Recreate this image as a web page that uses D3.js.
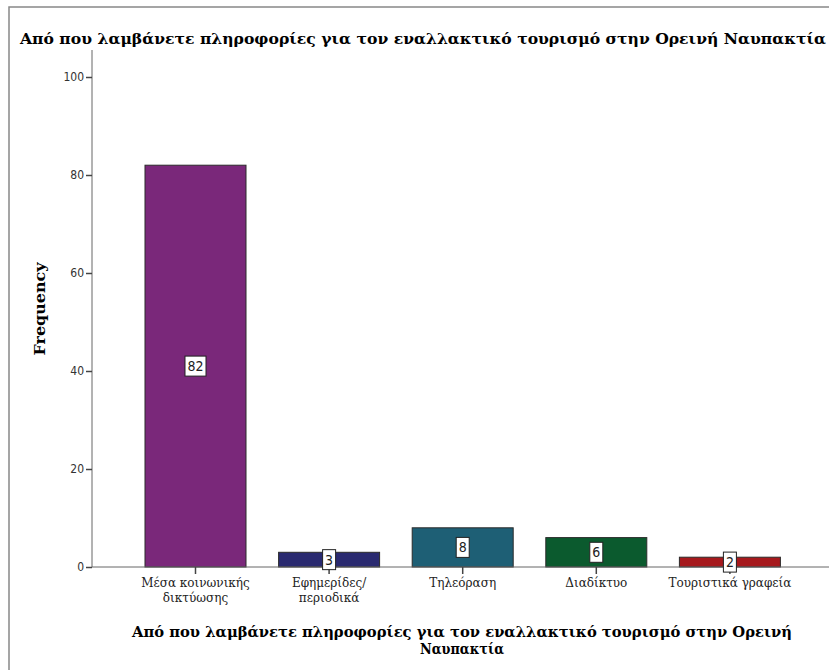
<!DOCTYPE html>
<html>
<head>
<meta charset="utf-8">
<script src="https://cdn.jsdelivr.net/npm/d3@7"></script>
<style>
  body { margin: 0; background: #fff; }
  text { font-family: "DejaVu Serif", "Liberation Serif", serif; }
</style>
</head>
<body>
<svg id="chart"></svg>
<script>
var WIDTH = 829;
var HEIGHT = 670;

// categories and counts
var categories = ["Μέσα κοινωνικής δικτύωσης", "Εφημερίδες/ περιοδικά", "Τηλεόραση", "Διαδίκτυο", "Τουριστικά γραφεία"];
var labelLines = [["Μέσα κοινωνικής", "δικτύωσης"], ["Εφημερίδες/", "περιοδικά"], ["Τηλεόραση"], ["Διαδίκτυο"], ["Τουριστικά γραφεία"]];
var counts = [82, 3, 8, 6, 2];
var colors = ["#7a287a", "#2a2a70", "#1e5f75", "#0b5a2e", "#a6191d"];
var yTicks = [0, 20, 40, 60, 80, 100];

var titleText = "Από που λαμβάνετε πληροφορίες για τον εναλλακτικό τουρισμό στην Ορεινή Ναυπακτία";

var svg = d3.select("#chart")
    .attr("width", WIDTH)
    .attr("height", HEIGHT);

// outer frame (top and left edges visible)
svg.append("path")
    .attr("d", "M9,670 V7 H829")
    .attr("fill", "none")
    .attr("stroke", "#888")
    .attr("stroke-width", 1.5);

var x = d3.scaleBand()
    .domain(categories)
    .range([112.4, 813])
    .padding(0.244);

var y = d3.scaleLinear()
    .domain([0, 100])
    .range([567, 77]);

// fit text to a measured width
function fit(sel, w) {
    sel.attr("textLength", w).attr("lengthAdjust", "spacingAndGlyphs");
}

// title
svg.append("text")
    .attr("x", 423)
    .attr("y", 44)
    .attr("text-anchor", "middle")
    .attr("font-weight", "bold")
    .attr("font-size", 15)
    .text(titleText)
    .call(fit, 806);

// bars
svg.append("g")
    .selectAll("rect")
    .data(counts)
    .enter()
    .append("rect")
    .attr("x", function(d, i) { return x(categories[i]); })
    .attr("y", function(d) { return y(d); })
    .attr("width", x.bandwidth())
    .attr("height", function(d) { return y(0) - y(d); })
    .attr("fill", function(d, i) { return colors[i]; })
    .attr("stroke", "#2b2b2b")
    .attr("stroke-width", 1);

// y axis
var yAxis = svg.append("g")
    .attr("transform", "translate(92,0)")
    .call(d3.axisLeft(y).tickValues(yTicks).tickSize(6).tickSizeOuter(0));
yAxis.select(".domain").attr("d", "M0,50V567").attr("stroke", "#666");
yAxis.selectAll(".tick line").attr("stroke", "#444").attr("stroke-width", 1.5);
yAxis.selectAll(".tick text")
    .attr("x", -8)
    .attr("fill", "#333")
    .style("font-family", "'DejaVu Sans Condensed', 'DejaVu Sans', sans-serif")
    .style("font-size", "12px");

// x axis
var xAxis = svg.append("g")
    .attr("transform", "translate(0,567)")
    .call(d3.axisBottom(x).tickSize(7).tickSizeOuter(0).tickFormat(""));
xAxis.select(".domain").attr("d", "M92,0H829").attr("stroke", "#666");
xAxis.selectAll(".tick line").attr("stroke", "#444").attr("stroke-width", 1.5);

// category labels
svg.append("g")
    .selectAll("text")
    .data(categories)
    .enter()
    .append("text")
    .attr("text-anchor", "middle")
    .attr("font-size", 12)
    .attr("fill", "#222")
    .attr("transform", function(d) { return "translate(" + (x(d) + x.bandwidth() / 2) + ",587)"; })
    .each(function(d, i) {
        var t = d3.select(this);
        labelLines[i].forEach(function(line, j) {
            t.append("tspan").attr("x", 0).attr("dy", j === 0 ? 0 : 15).text(line);
        });
    });

// value labels in white boxes
var vals = svg.append("g")
    .selectAll("g")
    .data(counts)
    .enter()
    .append("g")
    .attr("transform", function(d, i) {
        return "translate(" + (x(categories[i]) + x.bandwidth() / 2) + "," + y(d / 2) + ")";
    });
vals.append("rect")
    .attr("x", function(d) { return String(d).length > 1 ? -10.5 : -6.5; })
    .attr("y", -10)
    .attr("width", function(d) { return String(d).length > 1 ? 21 : 13; })
    .attr("height", 20)
    .attr("fill", "#fff")
    .attr("stroke", "#222")
    .attr("stroke-width", 1);
vals.append("text")
    .attr("text-anchor", "middle")
    .attr("y", 5)
    .attr("font-size", 14)
    .style("font-family", "'DejaVu Sans Condensed', 'DejaVu Sans', sans-serif")
    .attr("fill", "#222")
    .text(function(d) { return d; });

// y axis title
svg.append("text")
    .attr("transform", "translate(45,309) rotate(-90)")
    .attr("text-anchor", "middle")
    .attr("font-weight", "bold")
    .attr("font-size", 15)
    .text("Frequency")
    .call(fit, 93);

// x axis title (two lines)
var xt = svg.append("text")
    .attr("text-anchor", "middle")
    .attr("font-weight", "bold")
    .attr("font-size", 15)
    .attr("transform", "translate(462,637)");
xt.append("tspan").attr("x", 0).attr("dy", 0)
    .text("Από που λαμβάνετε πληροφορίες για τον εναλλακτικό τουρισμό στην Ορεινή")
    .call(fit, 660);
xt.append("tspan").attr("x", 0).attr("dy", 17)
    .text("Ναυπακτία")
    .call(fit, 84);
</script>
</body>
</html>
